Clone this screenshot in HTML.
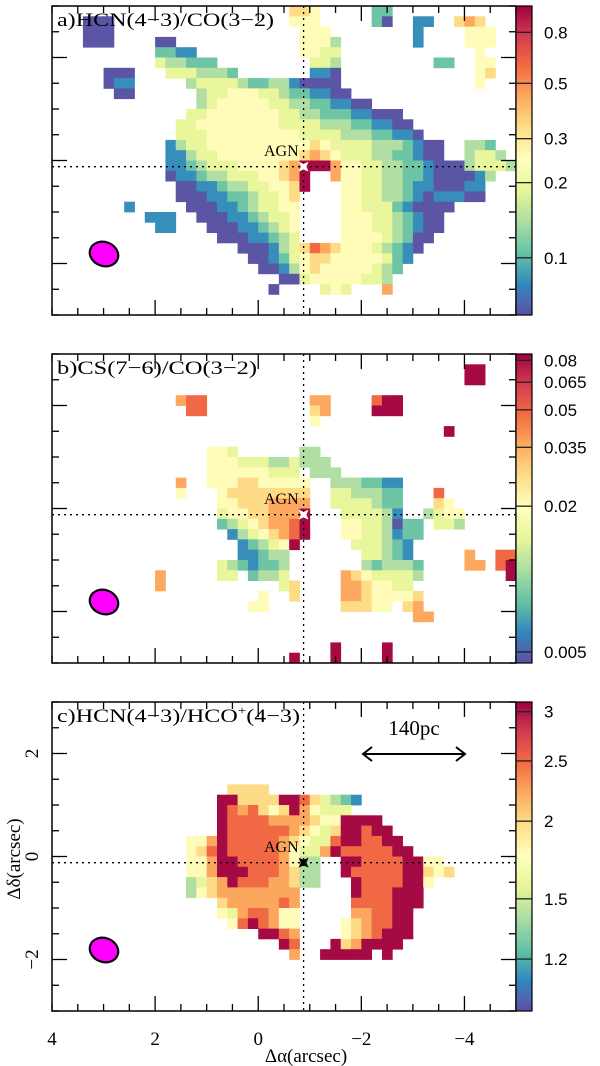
<!DOCTYPE html>
<html><head><meta charset="utf-8"><style>
html,body{margin:0;padding:0;background:#fff;}
svg{display:block;}
</style></head><body>
<svg id="fig" width="600" height="1066" viewBox="0 0 600 1066" xmlns="http://www.w3.org/2000/svg"></svg>
<script>
// ---- data (level digits 0..9 per 0.2" cell; row, startCol: levels) ----
const mapA = ["0,23:665","0,31:22","1,3:000","1,23:555","1,31:20","1,35:11","1,39:676","2,3:000","2,24:555","2,35:1","2,40:555",
"3,3:000","3,10:00","3,24:5553","3,35:1","3,40:555","4,10:2211","4,24:5544","4,41:5","5,10:433222","5,25:443","5,37:22","5,41:55",
"6,5:000","6,11:4443332","6,25:110","6,41:56","7,5:011","7,13:3444432233","7,23:10000","7,41:5","8,6:00","8,14:3445554432","8,24:21100",
"9,14:34555554433","9,25:221100","10,13:4455555554433","10,26:22211000","11,12:445555555544443","11,27:33221100",
"12,12:4445555555554444","12,28:33322110","13,11:134455555555556544","13,29:443332100","13,40:332",
"14,11:113445555555567654443322100","14,40:3443","15,11:1123444555567999755443322100034443",
"16,11:01123344455679","16,27:7554433221000013","17,12:0011233445569","17,28:55443321100011",
"18,12:000112234456","18,28:55443321011100","19,7:1","19,13:00011234455","19,28:55444210000",
"20,9:111","20,14:0001123445","20,28:5554432100","21,10:11","21,15:000112345","21,28:5554432100",
"22,16:00011234","22,28:555543200","23,18:000134687655543210","24,19:0012456655555421",
"25,20:00135655555432","26,22:00455555443","27,21:0","27,26:454","27,32:7"];
const mapB = ["1,40:99","2,40:99","4,12:788","4,25:77","4,31:899","5,13:88","5,25:67","5,31:999","6,25:5","7,38:9",
"9,15:554","9,24:33","10,15:555444334","10,24:333","11,15:555555444","11,25:333","12,12:7","12,15:5556655555","12,27:3332211",
"13,12:5","13,16:566666666","13,27:4433322","13,37:8","14,16:556667777","14,27:4444322","14,37:65",
"15,16:455667779","15,28:444431","15,36:3455","16,16:234567789","16,28:554430","16,34:22","16,37:443",
"17,17:13456789","17,28:554431","17,34:22","18,18:123459","18,29:444321","19,18:11233","19,30:44321","19,40:7","19,43:88",
"20,16:4321223","20,30:323332","20,40:77","20,43:89","21,10:7","21,16:44","21,19:2334","21,28:76544443","21,44:9",
"22,10:7","22,22:46","22,28:7765544","23,20:5","23,23:6","23,28:77655556","24,19:55","24,28:66655","24,34:67","25,35:77",
"28,27:9","28,32:9","29,23:9","29,27:9","29,32:9"];
const mapC = ["8,17:6666","9,16:996666998","9,25:64321","10,16:987865697","10,25:5444","11,16:988887777","11,25:655","11,28:9999",
"12,16:98888887654699899","13,13:557988888765448998899","14,13:5689888887544798888899",
"15,13:5579988887533","15,28:9988889955","16,13:5579998887633","16,28:98888899656",
"17,13:3467988877633","17,29:98888995","18,13:35677777777","18,29:9888999","19,16:67777787","19,29:8888999",
"20,16:54788755","20,29:778899","21,17:5898755","21,28:5678899","22,20:9987","22,28:5678999",
"23,22:98","23,27:9679999","24,23:7","24,26:99999","24,32:9"];
const ticksA = [0.8,0.5,0.3,0.2,0.1];
const ticksB = [0.08,0.065,0.05,0.035,0.02,0.005];
const ticksC = [3,2.5,2,1.5,1.2];
const xTicks = [4,2,0,-2,-4];
const yTicks = [2,0,-2];
</script>
<script>
const NS="http://www.w3.org/2000/svg";
const svg=document.getElementById('fig');
function mk(tag,attrs,parent){const e=document.createElementNS(NS,tag);for(const k in attrs)e.setAttribute(k,attrs[k]);(parent||svg).appendChild(e);return e;}
const stops=["#5e4fa2","#3288bd","#66c2a5","#abdda4","#e6f598","#ffffbf","#fee08b","#fdae61","#f46d43","#d53e4f","#9e0142"];
function hex(h){return [1,3,5].map(i=>parseInt(h.substr(i,2),16));}
function cmap(f){f=Math.max(0,Math.min(1,f));const p=f*10,i=Math.min(9,Math.floor(p)),t=p-i;const a=hex(stops[i]),b=hex(stops[i+1]);
 return "rgb("+a.map((v,k)=>Math.round(v+(b[k]-v)*t)).join(",")+")";}
const X0=52,X1=516,XMIN=4,XMAX=-5;
function xs(v){return X0+(v-XMIN)/(XMAX-XMIN)*(X1-X0);}
const H=309;
const panels=[
 {T:6,map:mapA,ticks:ticksA,vmin:0.059,vmax:1.02,title:"a)HCN(4\u22123)/CO(3\u22122)",tw:217,star:"#fff",name:"a"},
 {T:354,map:mapB,ticks:ticksB,vmin:0.0045,vmax:0.085,title:"b)CS(7\u22126)/CO(3\u22122)",tw:200,star:"#fff",name:"b"},
 {T:702,map:mapC,ticks:ticksC,vmin:0.99,vmax:3.11,title:"c)HCN(4\u22123)/HCO",tw:0,star:"#000",name:"c"}
];
panels.forEach(P=>{
 const T=P.T;
 const ys=v=>T+(3-v)/6*H;
 const norm=v=>Math.log(v/P.vmin)/Math.log(P.vmax/P.vmin);
 const g=mk('g',{});
 
 
 const cells=mk('g',{},g);
 
 
 P.map.forEach(s=>{
  const [rc,d]=s.split(':');const [r,c]=rc.split(',').map(Number);
  for(let k=0;k<d.length;k++){
   const lev=+d[k];
   const frac=lev===9?0.985:lev/10+0.01;
   const val=P.vmin*Math.pow(P.vmax/P.vmin,frac);
   const ax=XMIN-0.2*(c+k), ay=3-0.2*r;
   const x=xs(ax), y=ys(ay), w=xs(ax-0.2)-x, h=ys(ay-0.2)-y;
   const el=mk('rect',{x:x.toFixed(2),y:y.toFixed(2),width:(w+0.4).toFixed(2),height:(h+0.4).toFixed(2),fill:cmap(norm(val))},cells);
   
   
  }
 });
 const vx=xs(-0.88), hy=ys(-0.12);
 let e=mk('line',{x1:vx,y1:T,x2:vx,y2:T+H,stroke:"#000","stroke-width":1.3,"stroke-dasharray":"2,4"},g);
 
 e=mk('line',{x1:X0,y1:hy,x2:X1,y2:hy,stroke:"#000","stroke-width":1.3,"stroke-dasharray":"2,4"},g);
 
 const s=7,q=2;
 e=mk('path',{d:`M${vx},${hy-s} L${vx+q},${hy-q} L${vx+s},${hy} L${vx+q},${hy+q} L${vx},${hy+s} L${vx-q},${hy+q} L${vx-s},${hy} L${vx-q},${hy-q} Z`,fill:P.star,transform:`rotate(45 ${vx} ${hy})`},g);
 
 e=mk('text',{x:264,y:T+150,"font-family":"Liberation Serif, serif","font-size":16},g);e.textContent="AGN";
 
 e=mk('ellipse',{cx:104,cy:T+248,rx:14.5,ry:12,fill:"#ff00ff",stroke:"#000","stroke-width":2.2,transform:`rotate(20 104 ${T+248})`},g);
 
 e=mk('rect',{x:X0,y:T,width:X1-X0,height:H,fill:"none",stroke:"#000","stroke-width":1.5},g);
 
 for(let v=4;v>=-5;v-=0.5){const x=xs(v);const big=Math.abs(v%2)<1e-6&&v>-5&&v<4;const L=big?15:7;
  mk('line',{x1:x,y1:T+H,x2:x,y2:T+H-L,stroke:"#000","stroke-width":1.3},g);
  mk('line',{x1:x,y1:T,x2:x,y2:T+L,stroke:"#000","stroke-width":1.3},g);}
 for(let v=3;v>=-3;v-=0.5){const y=ys(v);const big=Math.abs(v%2)<1e-6&&Math.abs(v)<3;const L=big?15:7;
  mk('line',{x1:X0,y1:y,x2:X0+L,y2:y,stroke:"#000","stroke-width":1.3},g);
  mk('line',{x1:X1,y1:y,x2:X1-L,y2:y,stroke:"#000","stroke-width":1.3},g);}
 if(P.name!=='c'){
  e=mk('text',{x:57,y:T+20,"font-family":"Liberation Serif, serif","font-size":19,textLength:P.tw,lengthAdjust:"spacingAndGlyphs"},g);
  e.textContent=P.title;
 } else {
  e=mk('text',{x:57,y:T+20,"font-family":"Liberation Serif, serif","font-size":19},g);
  const a=mk('tspan',{},e);a.textContent="c)HCN(4\u22123)/HCO";
  const b=mk('tspan',{"font-size":12,dy:-8},e);b.textContent="+";
  const c2=mk('tspan',{dy:8},e);c2.textContent="(4\u22123)";
  e.setAttribute('textLength',243);e.setAttribute('lengthAdjust','spacingAndGlyphs');
  let t=mk('text',{x:414,y:T+33,"font-family":"Liberation Serif, serif","font-size":21,"text-anchor":"middle"},g);t.textContent="140pc";
  
  const ay=T+52;
  t=mk('path',{d:`M364,${ay} L464,${ay} M372,${ay-7} L363,${ay} L372,${ay+7} M456,${ay-7} L465,${ay} L456,${ay+7}`,stroke:"#000","stroke-width":2,fill:"none"},g);
  
 }
 
 const cb=mk('g',{},g);
 
 
 for(let i=0;i<H;i++){mk('rect',{x:516,y:T+i,width:16,height:1.2,fill:cmap(1-(i+0.5)/H)},cb);}
 mk('rect',{x:516,y:T,width:16,height:H,fill:"none",stroke:"#000","stroke-width":1.2},cb);
 P.ticks.forEach(v=>{const y=T+(1-norm(v))*H;
  mk('line',{x1:516,y1:y,x2:532,y2:y,stroke:"#222","stroke-width":1.3},cb);
  const t=mk('text',{x:544,y:y+6,"font-family":"Liberation Sans, sans-serif","font-size":17},cb);t.textContent=String(v);
  });
 if(P.name==='c'){
  xTicks.forEach(v=>{const t=mk('text',{x:xs(v),y:1045,"font-family":"Liberation Serif, serif","font-size":19,"text-anchor":"middle"});
   t.textContent=v<0?"\u2212"+(-v):String(v);
   });
  yTicks.forEach(v=>{const y=ys(v);const t=mk('text',{x:0,y:0,"font-family":"Liberation Serif, serif","font-size":19,"text-anchor":"middle",transform:`translate(38 ${y}) rotate(-90)`});
   t.textContent=v<0?"\u2212"+(-v):String(v);
   });
 }
});
let t=mk('text',{x:306,y:1062,"font-family":"Liberation Serif, serif","font-size":19,"text-anchor":"middle"});t.textContent="\u0394\u03b1(arcsec)";

t=mk('text',{x:0,y:0,"font-family":"Liberation Serif, serif","font-size":19,"text-anchor":"middle",transform:"translate(20 859) rotate(-90)"});t.textContent="\u0394\u03b4(arcsec)";

</script>
</body></html>
